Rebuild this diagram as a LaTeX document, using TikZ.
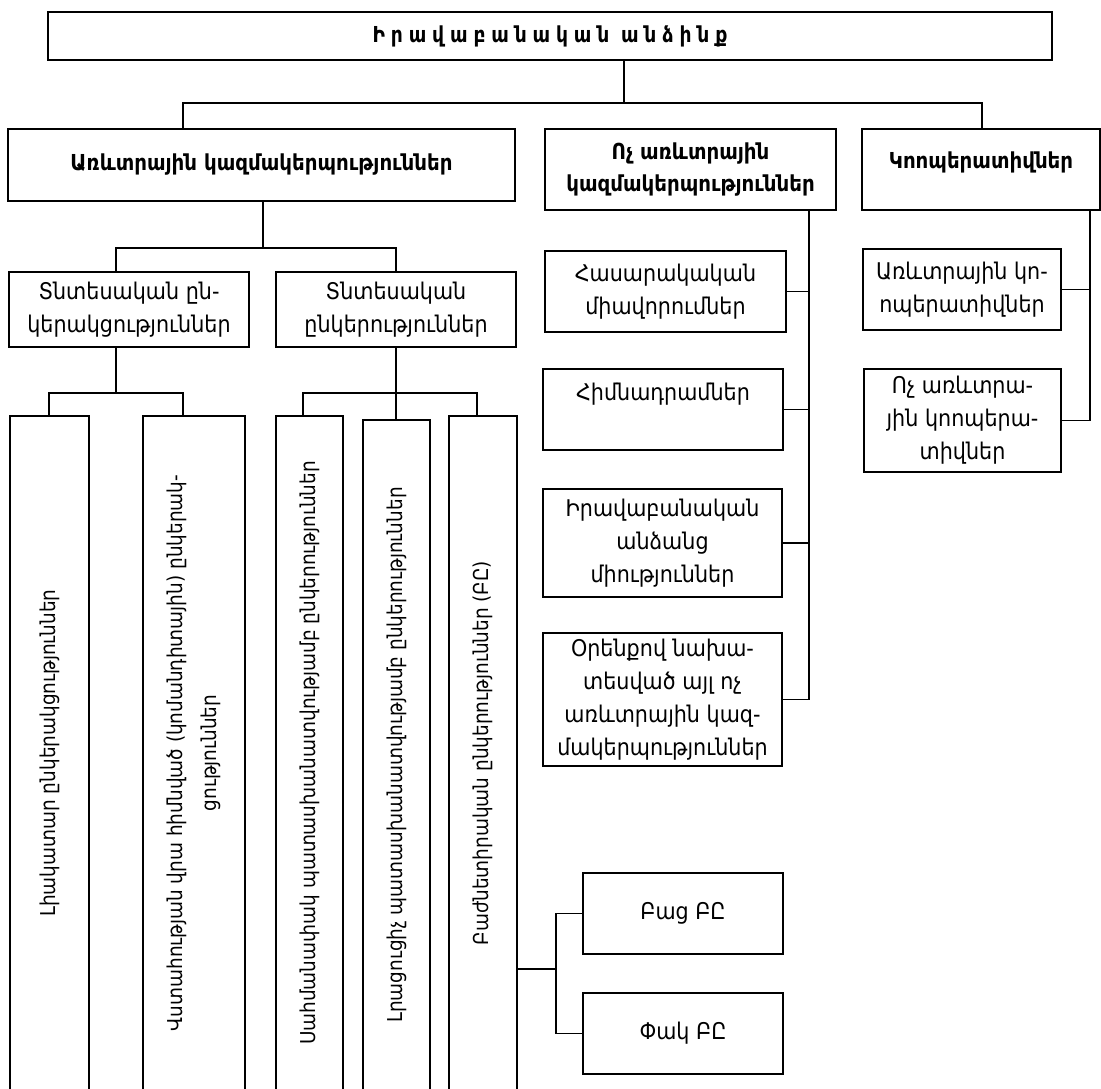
\documentclass[tikz,border=0pt]{standalone}
\usepackage{fontspec}
\setmainfont[FakeStretch=0.9]{DejaVu Sans}
\newfontfamily\ttlfont[FakeStretch=0.85, WordSpace=0.9]{DejaVu Sans}

\begin{document}
\begin{tikzpicture}[x=1pt, y=-1pt, line width=1.6pt,
		txt/.style={draw, align=center, inner sep=2pt, font=\fontsize{23}{33}\selectfont},
		head/.style={draw, align=center, inner sep=2pt, font=\bfseries\fontsize{22}{32}\selectfont},
		vtxt/.style={txt, rotate=90, minimum width=674, font=\fontsize{20.5}{34}\selectfont}]
		\useasboundingbox (0,0) rectangle (1101,1088);

		\node [head, minimum width=1004, minimum height=48] (top) at (550,36) {\ttlfont\bfseries Ի ր ա վ ա բ ա ն ա կ ա ն\ \ ա ն ձ ի ն ք};

		\node [head, minimum width=507, minimum height=72] (com) at (261.5,165) {Առևտրային կազմակերպություններ};
		\node [head, minimum width=291, minimum height=81] (ncom) at (690.5,169.5) {Ոչ առևտրային\\կազմակերպություններ};
		\node [head, minimum width=238, minimum height=81, text depth=18pt] (coop) at (981,169.5) {Կոոպերատիվներ};

		\node [txt, minimum width=240, minimum height=75] (ec1) at (129,309.5) {Տնտեսական ըն-\\կերակցություններ};
		\node [txt, minimum width=240, minimum height=75] (ec2) at (396,309.5) {Տնտեսական\\ընկերություններ};

		\node [vtxt, minimum height=79] (v1) at (49.5,753) {Լիակատար ընկերակցություններ};
		\node [vtxt, minimum height=102] (v2) at (194,753) {Վստահության վրա հիմնված (կոմանդիտային) ընկերակ-\\ցություններ};
		\node [vtxt, minimum height=67] (v3) at (309.5,753) {Սահմանափակ պատասխանատվությամբ ընկերություններ};
		\node [vtxt, minimum height=67, minimum width=670] (v4) at (396.5,755) {Լրացուցիչ պատասխանատվությամբ ընկերություններ};
		\node [vtxt, minimum height=68] (v5) at (483,753) {Բաժնետիրական ընկերություններ (ԲԸ)};

		\node [txt, minimum width=200, minimum height=81] (bac) at (683,913.5) {Բաց ԲԸ};
		\node [txt, minimum width=200, minimum height=81] (pak) at (683,1033.5) {Փակ ԲԸ};

		\node [txt, minimum width=241, minimum height=81] (n1) at (665.5,291.5) {Հասարակական\\միավորումներ};
		\node [txt, minimum width=240, minimum height=81, text depth=36pt] (n2) at (663,409.5) {Հիմնադրամներ};
		\node [txt, minimum width=239, minimum height=108] (n3) at (662.5,543) {Իրավաբանական\\անձանց\\միություններ};
		\node [txt, minimum width=239, minimum height=133] (n4) at (662.5,699.5) {Օրենքով նախա-\\տեսված այլ ոչ\\առևտրային կազ-\\մակերպություններ};

		\node [txt, minimum width=198, minimum height=81] (k1) at (962,289.5) {Առևտրային կո-\\ոպերատիվներ};
		\node [txt, minimum width=197, minimum height=103] (k2) at (962.5,420.5) {Ոչ առևտրա-\\յին կոոպերա-\\տիվներ};

		\coordinate (b0) at (624,103);
		\coordinate (b1) at (183,103);
		\coordinate (b2) at (982,103);
		\coordinate (c0) at (263,248);
		\coordinate (c1) at (116,248);
		\coordinate (c2) at (396,248);
		\coordinate (a1) at (49,393);
		\coordinate (a2) at (183,393);
		\coordinate (a3) at (303,393);
		\coordinate (a4) at (477,393);
		\coordinate (j5) at (556,969);
		\coordinate (n0) at (809,0);
		\coordinate (k0) at (1090,0);

		\draw [-] (b0 |- top.south) -- (b0);
		\draw [-] (b1 |- com.north) -- (b1) -- (b2) -- (b2 |- coop.north);
		\draw [-] (c0 |- com.south) -- (c0);
		\draw [-] (c1 |- ec1.north) -- (c1) -- (c2) -- (c2 |- ec2.north);
		\draw [-] (c1 |- ec1.south) -- (c1 |- a1);
		\draw [-] (a1 |- v1.east) -- (a1) -- (a2) -- (a2 |- v2.east);
		\draw [-] (ec2.south) -- (ec2.south |- v4.east);
		\draw [-] (a3 |- v3.east) -- (a3) -- (a4) -- (a4 |- v5.east);
		\draw [-] (j5 -| v5.south) -- (j5);
		\draw [-] (bac.west) -- (bac.west -| j5) -- (pak.west -| j5) -- (pak.west);
		\draw [-] (n0 |- ncom.south) -- (n0 |- n4.east) -- (n4.east);
		\draw [-] (n1.east) -- (n1.east -| n0);
		\draw [-] (n2.east) -- (n2.east -| n0);
		\draw [-] (n3.east) -- (n3.east -| n0);
		\draw [-] (k0 |- coop.south) -- (k0 |- k2.east) -- (k2.east);
		\draw [-] (k1.east) -- (k1.east -| k0);
	\end{tikzpicture}
\end{document}
